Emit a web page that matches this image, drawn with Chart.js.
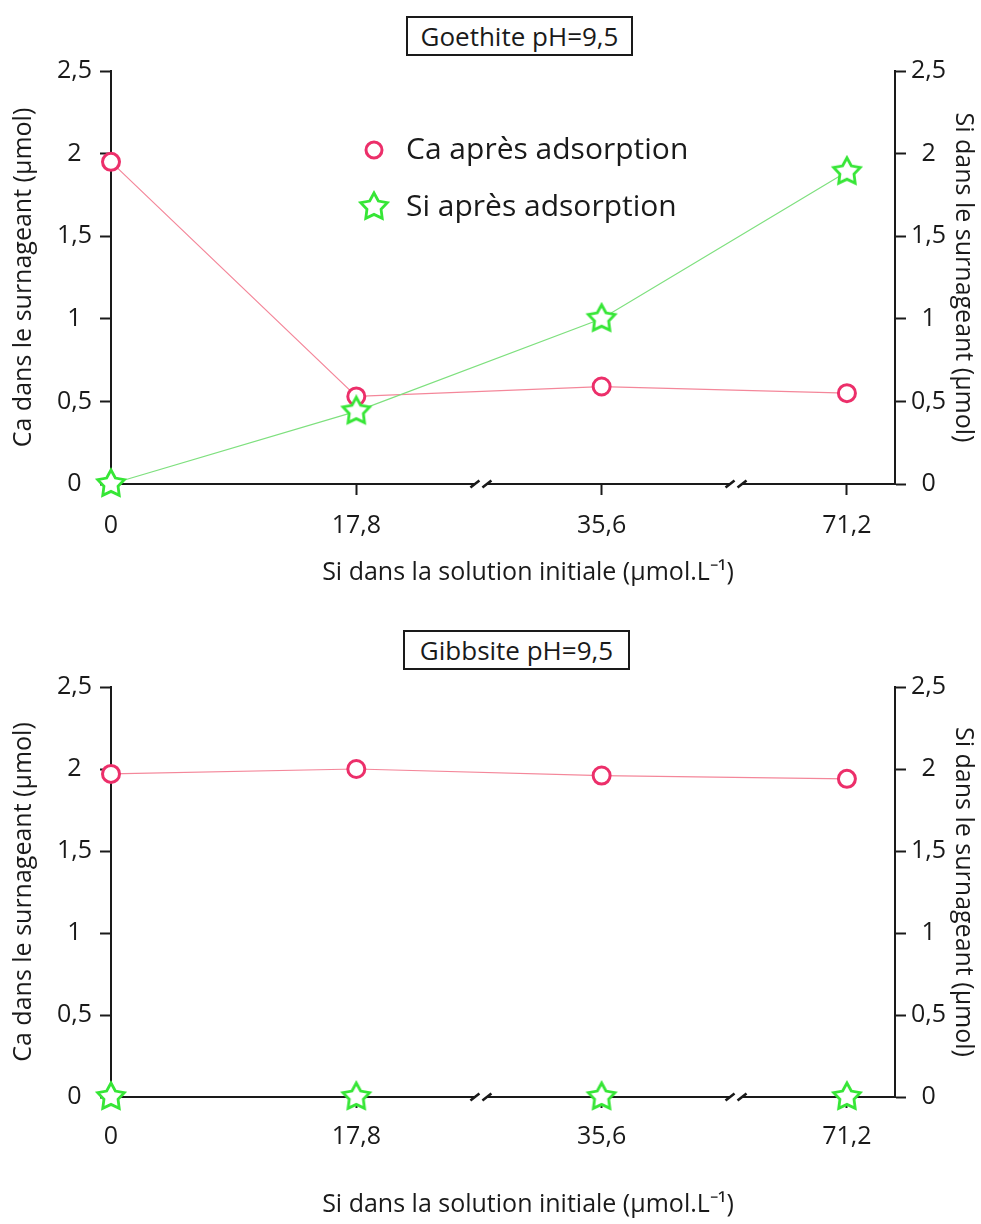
<!DOCTYPE html>
<html lang="fr">
<head>
<meta charset="utf-8">
<title>Ca et Si après adsorption</title>
<script src="https://cdn.jsdelivr.net/npm/chart.js"></script>
<style>
  body { margin: 0; background: #fff; font-family: "Open Sans", sans-serif; color: #1a1a1a; }
  .panel { position: absolute; left: 0; width: 981px; height: 612px; }
  .panel canvas { display: block; }
  .titlebox {
    position: absolute; box-sizing: border-box; border: 2px solid #1a1a1a;
    font-size: 26px; line-height: 36px; text-align: center; background: #fff;
  }
</style>
</head>
<body>
<div class="panel" style="top:0">
  <canvas id="goethite" width="981" height="612"></canvas>
  <div class="titlebox" style="left:406px;top:16px;width:227px;height:40px">Goethite pH=9,5</div>
</div>
<div class="panel" style="top:612px">
  <canvas id="gibbsite" width="981" height="612"></canvas>
  <div class="titlebox" style="left:403px;top:18px;width:227px;height:40px">Gibbsite pH=9,5</div>
</div>
<script>
// valeurs
const categories = ["0", "17,8", "35,6", "71,2"]; // Si initial (µmol.L-1)
const yTicks = [0, 0.5, 1, 1.5, 2, 2.5];
const caGoethite = [1.95, 0.53, 0.59, 0.55];
const siGoethite = [0, 0.44, 1.0, 1.89];
const caGibbsite = [1.97, 2.0, 1.96, 1.94];
const siGibbsite = [0, 0, 0, 0];
const legendLabels = ["Ca après adsorption", "Si après adsorption"];

const INK = "#1a1a1a";
const CA_MARK = "#ec2f6a";
const CA_LINE = "#f4879a";
const SI_MARK = "#36e636";
const SI_LINE = "#7ee07e";

Chart.defaults.font.family = "'Open Sans', sans-serif";
Chart.defaults.color = INK;

// étoile à 5 branches vide (pointStyle image)
function makeStar(R, r, color) {
  const c = document.createElement("canvas");
  const s = Math.ceil(R * 2 + 6);
  c.width = s; c.height = s;
  const g = c.getContext("2d");
  g.translate(s / 2, s / 2);
  g.beginPath();
  for (let i = 0; i < 10; i++) {
    const rad = i % 2 === 0 ? R : r;
    const a = -Math.PI / 2 + i * Math.PI / 5;
    g.lineTo(rad * Math.cos(a), rad * Math.sin(a));
  }
  g.closePath();
  g.fillStyle = "#fff";
  g.fill();
  g.lineWidth = 2.8;
  g.lineJoin = "miter";
  g.strokeStyle = color;
  g.stroke();
  return c;
}
const star = makeStar(14, 7.4, SI_MARK);

const toPts = arr => arr.map((v, i) => ({ x: i, y: v }));
const fmt = v => String(v).replace(".", ",");

// coupures "//" sur l'axe des x
const axisBreaks = {
  id: "axisBreaks",
  afterDraw(chart, args, opts) {
    const { ctx, chartArea } = chart;
    const xs = chart.scales.x;
    const y = chartArea.bottom;
    ctx.save();
    opts.at.forEach(v => {
      const px = xs.getPixelForValue(v);
      ctx.fillStyle = "#fff";
      ctx.fillRect(px - 6, y - 3, 12, 6);
      ctx.strokeStyle = INK;
      ctx.lineWidth = 2.6;
      ctx.beginPath();
      ctx.moveTo(px - 11, y + 3.5); ctx.lineTo(px - 2, y - 3.5);
      ctx.moveTo(px + 1, y + 3.5); ctx.lineTo(px + 10, y - 3.5);
      ctx.stroke();
    });
    ctx.restore();
  }
};

// légende dans la zone du graphique
const insideLegend = {
  id: "insideLegend",
  afterDraw(chart, args, opts) {
    if (!opts.show) return;
    const { ctx } = chart;
    ctx.save();
    ctx.font = "30px 'Open Sans', sans-serif";
    ctx.textBaseline = "middle";
    ctx.fillStyle = INK;
    // cercle
    ctx.beginPath();
    ctx.arc(opts.x, opts.y[0], 8, 0, Math.PI * 2);
    ctx.lineWidth = 3;
    ctx.strokeStyle = CA_MARK;
    ctx.stroke();
    ctx.fillText(legendLabels[0], opts.x + 32, opts.y[0]);
    // étoile
    ctx.drawImage(star, opts.x - star.width / 2, opts.y[1] - star.height / 2);
    ctx.fillText(legendLabels[1], opts.x + 32, opts.y[1]);
    ctx.restore();
  }
};

function makeChart(id, ca, si, lay) {
  const grid = {
    drawOnChartArea: false, drawTicks: true, tickLength: 11, tickWidth: 2, tickColor: INK
  };
  return new Chart(document.getElementById(id), {
    type: "line",
    data: {
      datasets: [
        {
          label: legendLabels[1], data: toPts(si), yAxisID: "y1", order: 0,
          borderColor: SI_LINE, borderWidth: 1.2, tension: 0,
          // un segment posé sur l'axe des x reste caché sous l'axe
          segment: {
            borderColor: c => (c.p0.parsed.y === 0 && c.p1.parsed.y === 0 ? "rgba(0,0,0,0)" : SI_LINE)
          },
          pointStyle: star, pointRadius: 14, clip: false
        },
        {
          label: legendLabels[0], data: toPts(ca), yAxisID: "y", order: 1,
          borderColor: CA_LINE, borderWidth: 1.2, tension: 0,
          pointStyle: "circle", pointRadius: 8.5, pointBorderWidth: 3,
          pointBorderColor: CA_MARK, pointBackgroundColor: "#fff", clip: false
        }
      ]
    },
    options: {
      responsive: false,
      animation: false,
      events: [],
      layout: { padding: { top: lay.top, left: 0, right: 0, bottom: 0 } },
      plugins: {
        legend: { display: false },
        tooltip: { enabled: false },
        axisBreaks: { at: [1.51, 2.55] },
        insideLegend: { show: lay.legend, x: 374, y: [150, 207] }
      },
      scales: {
        x: {
          type: "linear", min: 0, max: 3.196,
          afterBuildTicks: s => { s.ticks = categories.map((c, i) => ({ value: i })); },
          afterFit: s => { s.height = 612 - lay.bottom; },
          border: { color: INK, width: 2 },
          grid: Object.assign({}, grid, {
            tickColor: c => (c.index === 0 ? "rgba(0,0,0,0)" : INK)
          }),
          ticks: {
            padding: lay.xTickPad, autoSkip: false, maxRotation: 0,
            font: { size: 25 }, callback: v => categories[v]
          },
          title: {
            display: true, text: "\u2003\u2003Si dans la solution initiale (µmol.L⁻¹)",
            font: { size: 25 }, padding: { top: 0, bottom: lay.xTitlePad }
          }
        },
        y: {
          position: "left", min: 0, max: 2.5,
          afterBuildTicks: s => { s.ticks = yTicks.map(v => ({ value: v })); },
          afterFit: s => { s.width = 111; },
          border: { color: INK, width: 2 },
          grid: grid,
          ticks: { crossAlign: "center", padding: 8, font: { size: 25 }, callback: fmt },
          title: {
            display: true, text: "Ca dans le surnageant (µmol)",
            font: { size: 25 }, padding: { top: 9, bottom: 0 }
          }
        },
        y1: {
          position: "right", min: 0, max: 2.5,
          afterBuildTicks: s => { s.ticks = yTicks.map(v => ({ value: v })); },
          afterFit: s => { s.width = 981 - 895; },
          border: { color: INK, width: 2 },
          grid: grid,
          ticks: { crossAlign: "center", padding: 5, font: { size: 25 }, callback: fmt },
          title: {
            display: true, text: "Si dans le surnageant (µmol)",
            font: { size: 25 }, padding: { top: 3, bottom: 0 }
          }
        }
      }
    },
    plugins: [axisBreaks, insideLegend]
  });
}

makeChart("goethite", caGoethite, siGoethite,
  { top: 71, bottom: 484, xTickPad: 16, xTitlePad: 24, legend: true });
makeChart("gibbsite", caGibbsite, siGibbsite,
  { top: 75, bottom: 485, xTickPad: 14, xTitlePad: 4, legend: false });
</script>
</body>
</html>
